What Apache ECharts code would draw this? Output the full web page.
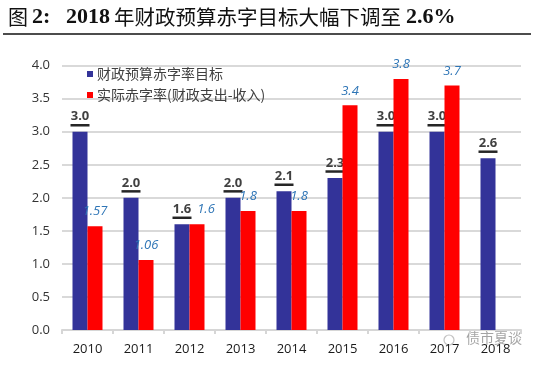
<!DOCTYPE html>
<html><head><meta charset="utf-8">
<script src="https://cdn.jsdelivr.net/npm/echarts@6/dist/echarts.min.js"></script>
<style>html,body{margin:0;padding:0;background:#fff}#c{width:533px;height:365px}</style>
</head><body><div id="c"></div>
<script>
const categories = ['2010','2011','2012','2013','2014','2015','2016','2017','2018'];
const targetRate = [3.0, 2.0, 1.6, 2.0, 2.1, 2.3, 3.0, 3.0, 2.6];
const actualRate = [1.57, 1.06, 1.6, 1.8, 1.8, 3.4, 3.8, 3.7, null];
const targetLabels = ['3.0','2.0','1.6','2.0','2.1','2.3','3.0','3.0','2.6'];
const actualLabels = ['1.57','1.06','1.6','1.8','1.8','3.4','3.8','3.7',''];
const yTicks = {min: 0, max: 4, interval: 0.5};

const cjk = '"Noto Sans CJK SC", sans-serif';
const chart = echarts.init(document.getElementById('c'), null, {renderer: 'canvas'});
chart.setOption({
  animation: false,
  backgroundColor: '#fff',
  graphic: [
    {type: 'text', left: 8, top: 7, style: {text: '图', font: '20px ' + cjk, fill: '#111'}},
    {type: 'text', left: 32, top: 6, style: {text: '2:', font: 'bold 22px "Liberation Serif", serif', fill: '#111'}},
    {type: 'text', left: 66, top: 6, style: {text: '2018', font: 'bold 22px "Liberation Serif", serif', fill: '#111'}},
    {type: 'text', left: 114, top: 7, style: {text: '年财政预算赤字目标大幅下调至', font: '20.5px ' + cjk, fill: '#111'}},
    {type: 'text', left: 406, top: 6, style: {text: '2.6%', font: 'bold 22px "Liberation Serif", serif', fill: '#111'}},
    {type: 'line', shape: {x1: 3, y1: 34, x2: 531, y2: 34}, style: {stroke: '#111', lineWidth: 1.5}},
    {type: 'circle', shape: {cx: 449, cy: 340, r: 5}, style: {fill: 'none', stroke: 'rgba(120,120,120,0.45)', lineWidth: 1.2}},
    {type: 'text', left: 466, top: 331, style: {text: '债市夏谈', font: '14px ' + cjk, fill: 'rgba(90,90,90,0.55)'}}
  ],
  legend: {
    orient: 'vertical', left: 82, top: 62, itemWidth: 6, itemHeight: 6, itemGap: 7,
    icon: 'rect',
    textStyle: {fontFamily: cjk, fontSize: 14, color: '#404040', padding: [0,0,0,-1]},
    data: ['财政预算赤字率目标', '实际赤字率(财政支出-收入)']
  },
  grid: {left: 62, right: 12, top: 65.7, bottom: 35, containLabel: false},
  xAxis: {
    type: 'category', data: categories,
    axisLine: {lineStyle: {color: '#d6d6d6', width: 2}},
    axisTick: {show: true, length: 4, lineStyle: {color: '#d6d6d6', width: 2}},
    axisLabel: {fontFamily: '"Open Sans", sans-serif', fontSize: 13, color: '#1a1a1a', margin: 13}
  },
  yAxis: {
    type: 'value', min: yTicks.min, max: yTicks.max, interval: yTicks.interval,
    axisLine: {show: false}, axisTick: {show: false},
    splitLine: {lineStyle: {color: '#d9d9d9', width: 2}},
    axisLabel: {fontFamily: '"Open Sans", sans-serif', fontSize: 13, color: '#333', margin: 12,
      formatter: v => v.toFixed(1)}
  },
  series: [
    {
      name: '财政预算赤字率目标', type: 'bar', barWidth: 15, barGap: '0%',
      itemStyle: {color: '#333399'},
      data: targetRate,
      label: {
        show: true, position: 'top', distance: 5,
        formatter: p => '{t|' + targetLabels[p.dataIndex] + '}\n{u|}',
        rich: {
          t: {fontFamily: '"Open Sans", sans-serif', fontSize: 13, fontWeight: 'bold', color: '#404040', lineHeight: 14, align: 'center'},
          u: {width: 19, height: 2.5, lineHeight: 3, backgroundColor: '#262626', align: 'center'}
        }
      },
      z: 2
    },
    {
      name: '实际赤字率(财政支出-收入)', type: 'bar', barWidth: 15,
      itemStyle: {color: '#ff0000'},
      data: actualRate.map((v, i) => i === 2 ? {value: v, label: {offset: [9, 0]}} : v),
      label: {
        show: true, position: 'top', distance: 8,
        formatter: p => actualLabels[p.dataIndex],
        fontFamily: '"Open Sans", sans-serif', fontSize: 13, fontStyle: 'italic', color: '#2e75b6'
      },
      z: 3
    }
  ]
});
</script></body></html>
